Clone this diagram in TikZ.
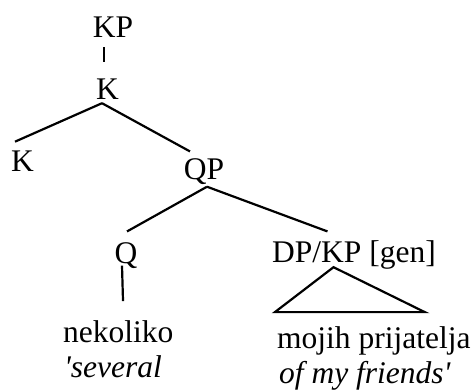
\documentclass[tikz,border=0pt]{standalone}
\usepackage{fontspec}
\setmainfont{Liberation Serif}
\usetikzlibrary{calc}

\begin{document}
\begin{tikzpicture}[x=1pt, y=-1pt, every node/.style={font=\fontsize{31.5}{36}\selectfont, inner sep=0pt, anchor=base}, branch/.style={line width=2.2pt}]
        \useasboundingbox (0,0) rectangle (476,391);

        % Category labels of the tree
        \node (kp) at (113,37) {KP};
        \node (k) at (107.5,99) {K};
        \node (kl) at (22.5,171) {K};
        \node (qp) at (204,179) {QP};
        \node (q) at (126,263) {Q};
        \node[anchor=base west] (dp) at (272,262) {DP/KP [gen]};

        % Words and glosses
        \node[anchor=base west] (nek) at (63,342) {nekoliko};
        \node[anchor=base west] (nekgl) at (64,377) {\textit{\textquotesingle several}};
        \node[anchor=base west] (moj) at (277,348) {mojih prijatelja};
        \node[anchor=base west] (mojgl) at (279,383) {\textit{of my friends\textquotesingle}};

        % Branches
        \draw[branch] ($(kp.south)+(-9,10)$) -- ($(k.north)+(-3.5,-16.5)$);
        \draw[branch] ($(k.south)+(-5.5,4)$) -- ($(kl.north)+(-7.5,-8.5)$);
        \draw[branch] ($(k.south)+(-5.5,4)$) -- ($(qp.north)+(-14,-6.5)$);
        \draw[branch] ($(qp.south)+(3,2.4)$) -- ($(q.north)+(1,-10.5)$);
        \draw[branch] ($(qp.south)+(3,2.4)$) -- ($(dp.north)+(-26.5,-8.5)$);
        \draw[branch] ($(q.south)+(-4,-2.6)$) -- ($(nek.north)+(4.7,-18.8)$);

        % Triangle over the phrase
        \draw[branch] ($(dp.south)+(-20.5,-1.8)$) -- ($(moj.north)+(-99,-13.8)$) -- ($(moj.north)+(51,-13.8)$) -- cycle;
\end{tikzpicture}
\end{document}
